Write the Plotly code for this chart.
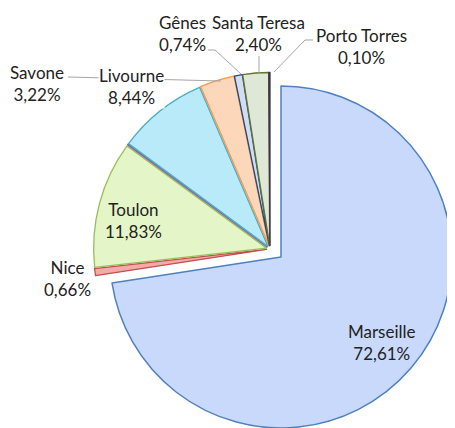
import plotly.graph_objects as go

# ---- data ----
ports = ["Marseille", "Nice", "Toulon", "n/d", "Livourne", "Savone",
         "Gênes", "Santa Teresa", "Porto Torres"]
shares = [72.61, 0.66, 11.83, 0.05, 8.44, 3.22, 0.74, 2.40, 0.10]
show_label = [True, True, True, False, True, True, True, True, True]

# ---- styles ----
fills = ["#c8d9fb", "#f5a9a8", "#e4f5c8", "#c9bde0", "#b9eafa", "#fdd7ba",
         "#d3ddf0", "#dfe7d6", "#8f7fa8"]
borders = ["#4f81bd", "#c0504d", "#9bbb59", "#8064a2", "#4bacc6", "#f79646",
           "#1f497d", "#5f7530", "#3f3151"]

# page body has an 8px margin: build the figure 8px smaller and shift coords
OFF = 8
W, H = 455 - OFF, 428 - OFF


def px(x, y):
    return (x - OFF) / W, 1 - (y - OFF) / H


def dom(cx, cy, half):
    cx -= OFF
    cy -= OFF
    return dict(x=[max(0, (cx - half) / W), min(1, (cx + half) / W)],
                y=[max(0, 1 - (cy + half) / H), min(1, 1 - (cy - half) / H)])


fig = go.Figure()

# all slices except Marseille (Marseille kept transparent to keep angles)
fa = ["rgba(0,0,0,0)"] + fills[1:]
la = ["rgba(0,0,0,0)"] + borders[1:]
fig.add_trace(go.Pie(
    labels=ports, values=shares, sort=False, direction="clockwise",
    rotation=0, textinfo="none", hoverinfo="label+percent",
    pull=[0.02] * len(ports),
    marker=dict(colors=fa, line=dict(color=la, width=1.3)),
    domain=dom(270, 249, 176.5), showlegend=False,
))

# exploded Marseille slice
fb = [fills[0]] + ["rgba(0,0,0,0)"] * (len(ports) - 1)
lb = [borders[0]] + ["rgba(0,0,0,0)"] * (len(ports) - 1)
fig.add_trace(go.Pie(
    labels=ports, values=shares, sort=False, direction="clockwise",
    rotation=0, textinfo="none", hoverinfo="label+percent",
    marker=dict(colors=fb, line=dict(color=lb, width=1.5)),
    domain=dom(281, 257, 171), showlegend=False,
))

# label positions (layout)
label_pos = {
    "Marseille": (382, 342),
    "Nice": (67, 278),
    "Toulon": (134, 220),
    "Livourne": (131.5, 86),
    "Savone": (37, 83.5),
    "Gênes": (182, 33.5),
    "Santa Teresa": (258, 33.5),
    "Porto Torres": (361, 46),
}

annotations = []
for name, v, show in zip(ports, shares, show_label):
    if not show:
        continue
    x, y = px(*label_pos[name])
    txt = f"{name}<br>{v:.2f}".replace(".", ",") + "%"
    annotations.append(dict(
        x=x, y=y, xref="paper", yref="paper", text=txt, showarrow=False,
        xanchor="center", yanchor="middle", align="center",
        font=dict(family="Lato, sans-serif", size=17, color="#222222"),
        bgcolor="white" if name == "Livourne" else "rgba(0,0,0,0)",
        borderpad=0,
    ))

leaders = [
    [(68, 77), (221, 81)],
    [(208, 50), (215, 50), (241, 74)],
    [(259, 56), (259, 73)],
    [(313, 40), (305, 40), (274, 72)],
]
shapes = []
for pts in leaders:
    p = [px(*q) for q in pts]
    path = "M " + " L ".join(f"{a:.5f},{b:.5f}" for a, b in p)
    shapes.append(dict(type="path", path=path, xref="paper", yref="paper",
                       line=dict(color="#a6a6a6", width=1), layer="above"))

fig.update_layout(
    width=W, height=H, margin=dict(l=0, r=0, t=0, b=0),
    paper_bgcolor="white", plot_bgcolor="white",
    annotations=annotations, shapes=shapes,
)

fig.write_html("out.html")
